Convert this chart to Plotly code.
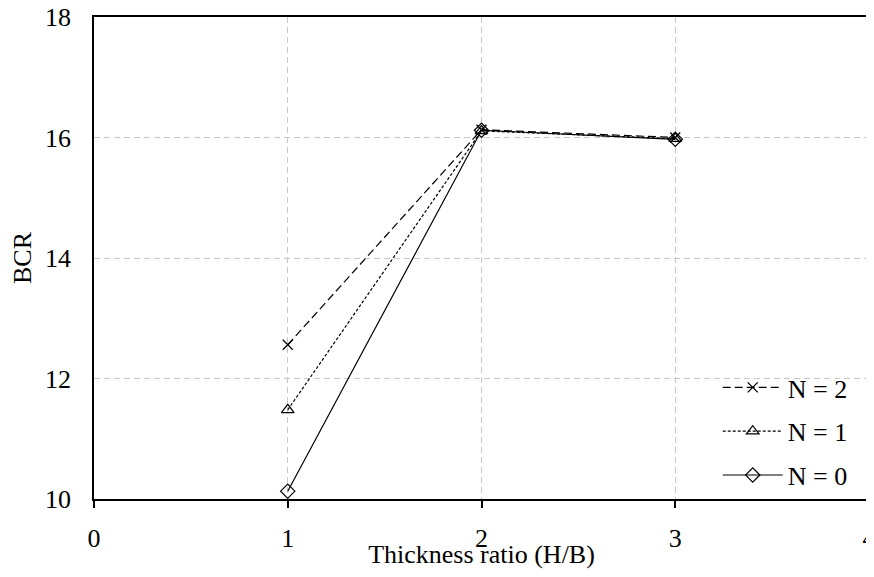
import plotly.graph_objects as go

thickness = [1, 2, 3]
bcr_n2 = [12.56, 16.13, 16.0]
bcr_n1 = [11.48, 16.11, 15.98]
bcr_n0 = [10.13, 16.12, 15.97]

FONT = "Liberation Serif"
FS = 26

fig = go.Figure()
fig.add_trace(go.Scatter(
    x=thickness, y=bcr_n2, name="N = 2", mode="lines+markers", legendgroup="n2",
    line=dict(color="black", width=1.2, dash="8px,4px"),
    marker=dict(symbol="x-thin-open", size=10, color="black", line=dict(width=1.3, color="black")),
))
fig.add_trace(go.Scatter(
    x=thickness, y=bcr_n1, name="N = 1", mode="lines+markers", legendgroup="n1",
    line=dict(color="black", width=1.2, dash="3px,2px"),
    marker=dict(symbol="triangle-up-open", size=11, color="black", line=dict(width=1.2, color="black")),
))
fig.add_trace(go.Scatter(
    x=thickness, y=bcr_n0, name="N = 0", mode="lines+markers", legendgroup="n0",
    line=dict(color="black", width=1.2),
    marker=dict(symbol="diamond-open", size=11, color="black", line=dict(width=1.2, color="black")),
))

# page body has an 8px margin, so the figure is sized to fit inside it
fig.update_layout(
    width=866, height=561,
    margin=dict(l=86, r=5, t=9, b=70),
    paper_bgcolor="white", plot_bgcolor="white",
    font=dict(family=FONT, size=FS, color="black"),
    showlegend=True,
    legend=dict(
        x=0.979, y=0.0, xanchor="right", yanchor="bottom",
        bgcolor="rgba(0,0,0,0)", font=dict(family=FONT, size=FS),
        tracegroupgap=7, itemwidth=60,
    ),
)
fig.update_xaxes(
    range=[0, 4], tickvals=[0, 1, 2, 3, 4], ticks="outside", ticklen=7,
    tickcolor="black", tickwidth=1.5, automargin=False, ticklabeloverflow="allow",
    showline=True, linecolor="black", linewidth=1.5, mirror=True,
    showgrid=True, gridcolor="#c8c8c8", griddash="6px,4px", gridwidth=1,
    zeroline=False, ticklabelstandoff=8,
    title=dict(text="Thickness ratio (H/B)", standoff=6, font=dict(family=FONT, size=FS)),
)
fig.update_yaxes(
    range=[10, 18], tickvals=[10, 12, 14, 16, 18], ticks="",
    showline=True, linecolor="black", linewidth=1.5, mirror=True, automargin=False,
    ticklabeloverflow="allow",
    showgrid=True, gridcolor="#c8c8c8", griddash="6px,4px", gridwidth=1,
    zeroline=False, ticklabelstandoff=16,
    title=dict(text="BCR", standoff=8, font=dict(family=FONT, size=FS)),
)

fig.write_html("out.html")
